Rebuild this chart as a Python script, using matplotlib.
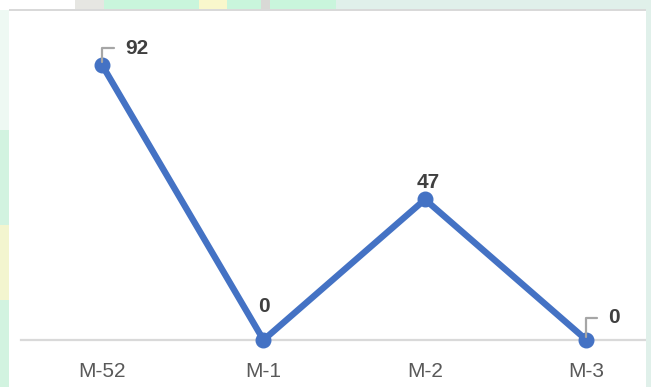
import matplotlib
matplotlib.use("Agg")
import matplotlib.pyplot as plt
from matplotlib.patches import Rectangle

# Monthly counts
categories = ["M-52", "M-1", "M-2", "M-3"]
values = [92, 0, 47, 0]

W, H = 651, 387
fig = plt.figure(figsize=(W / 100, H / 100), dpi=100)
fig.patch.set_facecolor("#e0f0ea")


def px_rect(x0, y0, x1, y1, color, z=-2):
    """Rectangle given in pixel coordinates (origin at top-left)."""
    r = Rectangle((x0 / W, 1 - y1 / H), (x1 - x0) / W, (y1 - y0) / H,
                  transform=fig.transFigure, facecolor=color,
                  edgecolor="none", zorder=z)
    fig.patches.append(r)
    return r


# surrounding backdrop strips
px_rect(0, 0, 75, 10, "#ffffff")
px_rect(75, 0, 104, 10, "#e6e6e2")
px_rect(104, 0, 199, 10, "#c9f5dc")
px_rect(199, 0, 227, 10, "#f9f7cc")
px_rect(227, 0, 261, 10, "#c9f5dc")
px_rect(261, 0, 270, 10, "#d9d9d6")
px_rect(270, 0, 336, 10, "#c9f5dc")
px_rect(0, 10, 9, 387, "#d2f3e0")
px_rect(0, 10, 9, 130, "#eef9f3")
px_rect(0, 225, 9, 300, "#f3f5cf")

# white chart panel with a thin grey top border
px_rect(9, 10, 646, 387, "#ffffff", z=-1)
px_rect(9, 9, 646, 11, "#d9d9d9", z=-0.5)

# plot area: category slots are 161.5 px wide, y scale ~2.99 px per unit
slot = 161.5
left_px = 102 - slot / 2
right_px = left_px + 4 * slot
zero_px = 340
top_px = zero_px - 100 * 2.99
ax = fig.add_axes([left_px / W, 1 - zero_px / H,
                   (right_px - left_px) / W, (zero_px - top_px) / H])
ax.set_facecolor("none")
ax.set_xlim(-0.5, 3.5)
ax.set_ylim(0, 100)

x = list(range(len(categories)))
ax.plot(x, values, color="#4472c4", linewidth=4.6, marker="o",
        markersize=10.5, solid_capstyle="round", solid_joinstyle="round",
        clip_on=False, zorder=3)

for side in ["top", "right", "left"]:
    ax.spines[side].set_visible(False)
ax.spines["bottom"].set_color("#d9d9d9")
ax.spines["bottom"].set_linewidth(1.6)
ax.spines["bottom"].set_zorder(1)
ax.set_yticks([])
ax.set_xticks(x)
ax.set_xticklabels(categories, fontsize=15, color="#595959",
                   family="Liberation Sans")
ax.tick_params(axis="x", length=0, pad=16)

label_style = dict(fontsize=15, fontweight="bold", color="#404040",
                   family="Liberation Sans", ha="center", va="center",
                   zorder=4, annotation_clip=False)
leader = dict(arrowstyle="-", color="#a6a6a6", linewidth=1.6,
              connectionstyle="angle,angleA=0,angleB=90,rad=0",
              relpos=(0, 0.5), shrinkA=6, shrinkB=2)

# labels offset up-right with a callout leader
ax.annotate(str(values[0]), (x[0], values[0]), xytext=(25, 12),
            textcoords="offset points", arrowprops=leader, **label_style)
ax.annotate(str(values[3]), (x[3], values[3]), xytext=(20, 16),
            textcoords="offset points", arrowprops=leader, **label_style)
# labels directly above
ax.annotate(str(values[1]), (x[1], values[1]), xytext=(0, 24),
            textcoords="offset points", **label_style)
ax.annotate(str(values[2]), (x[2], values[2]), xytext=(2, 12),
            textcoords="offset points", **label_style)

# right-hand backdrop edge drawn over the plot area overflow
px_rect(646, 0, 651, 387, "#e0f0ea", z=5)

fig.savefig("out.png", dpi=100, facecolor=fig.get_facecolor())
